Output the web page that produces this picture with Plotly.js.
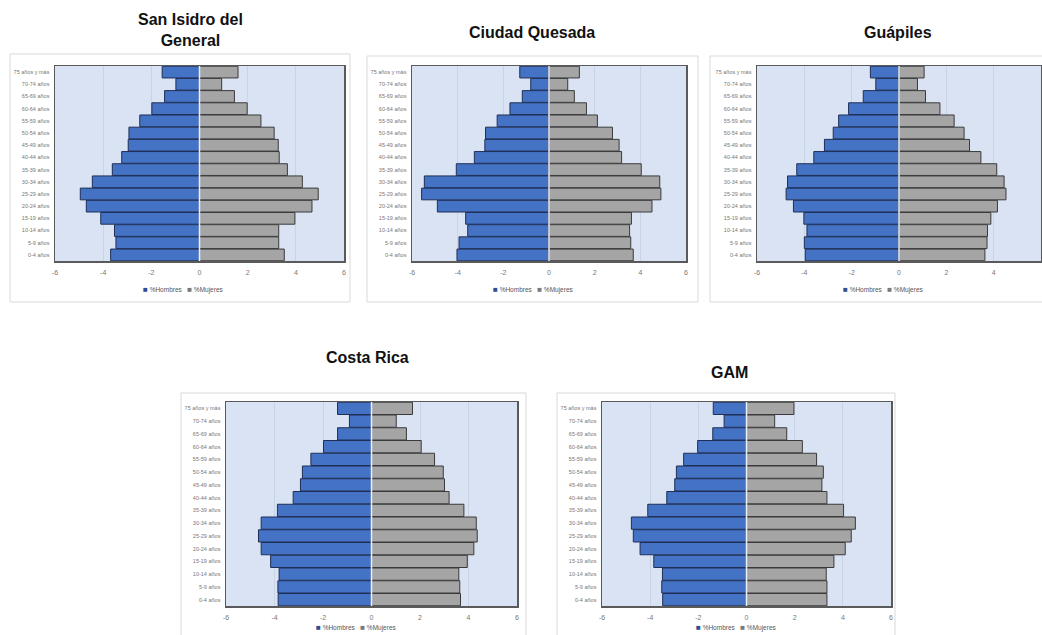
<!DOCTYPE html>
<html>
<head>
<meta charset="utf-8">
<script src="https://cdn.plot.ly/plotly-3.0.1.min.js"></script>
<style>
html,body{margin:0;padding:0;background:#fff;}
#chart{width:1042px;height:635px;}
</style>
</head>
<body>
<div id="chart"></div>
<script>
// Age groups, bottom to top
var ageGroups = ["0-4 años","5-9 años","10-14 años","15-19 años","20-24 años","25-29 años","30-34 años","35-39 años","40-44 años","45-49 años","50-54 años","55-59 años","60-64 años","65-69 años","70-74 años","75 años y más"];

var regionNames = ["San Isidro del<br>General","Ciudad Quesada","Guápiles","Costa Rica","GAM"];
var seriesNames = ["%Hombres","%Mujeres"];

// % Hombres (shown to the left), bottom (0-4) to top (75+)
var hombresSanIsidro = [3.69,3.47,3.53,4.10,4.70,4.95,4.45,3.62,3.23,2.96,2.93,2.48,1.98,1.45,0.98,1.55];
var hombresQuesada   = [4.03,3.94,3.56,3.65,4.89,5.58,5.46,4.06,3.27,2.81,2.78,2.27,1.71,1.17,0.80,1.28];
var hombresGuapiles  = [3.96,4.00,3.89,4.02,4.46,4.77,4.71,4.32,3.60,3.15,2.78,2.55,2.13,1.51,0.98,1.21];
var hombresCostaRica = [3.85,3.86,3.81,4.16,4.55,4.66,4.55,3.88,3.23,2.93,2.85,2.50,1.98,1.40,0.91,1.40];
var hombresGAM       = [3.48,3.52,3.49,3.85,4.42,4.70,4.78,4.10,3.31,2.98,2.91,2.61,2.03,1.40,0.93,1.38];

// % Mujeres (shown to the right)
var mujeresSanIsidro = [3.52,3.29,3.29,3.96,4.67,4.93,4.27,3.65,3.31,3.27,3.10,2.55,1.98,1.45,0.92,1.60];
var mujeresQuesada   = [3.69,3.58,3.53,3.61,4.51,4.90,4.85,4.04,3.18,3.07,2.78,2.12,1.64,1.11,0.82,1.33];
var mujeresGuapiles  = [3.63,3.72,3.74,3.88,4.16,4.52,4.44,4.13,3.46,2.98,2.75,2.33,1.73,1.12,0.78,1.06];
var mujeresCostaRica = [3.67,3.64,3.60,3.95,4.22,4.36,4.32,3.81,3.20,3.01,2.96,2.60,2.05,1.44,1.02,1.69];
var mujeresGAM       = [3.34,3.34,3.31,3.63,4.10,4.35,4.52,4.03,3.34,3.13,3.19,2.91,2.32,1.67,1.17,1.97];

var xTickVals = [-6,-4,-2,0,2,4,6];
var xTickText = ["-6","-4","-2","0","2","4","6"];

var hombres = [hombresSanIsidro,hombresQuesada,hombresGuapiles,hombresCostaRica,hombresGAM];
var mujeres = [mujeresSanIsidro,mujeresQuesada,mujeresGuapiles,mujeresCostaRica,mujeresGAM];

var W = 1042, H = 635;
function px(x){return x/W;}
function py(y){return 1 - y/H;}

// plot areas in pixels [x0,x1,y0,y1]
var areas = [
  [55,344,66,261],
  [412,686,66,261],
  [757,1041,66,261],
  [226,517,402,606],
  [602,891,402,606]
];
var boxes = [
  [10,350,54,302],
  [367,698,56,302],
  [710,1050,56,302],
  [181,526,393,640],
  [557,895,393,640]
];
var titlePos = [[190,30],[532,32],[898,32],[367,357],[729,372]];
var legendPos = [[183,289],[533,289],[883,289],[356,627],[736,627]];

var blue = "#4472c4", gray = "#a5a5a5";
var data = [], layout = {
  width: W, height: H,
  margin:{l:0,r:0,t:0,b:0},
  paper_bgcolor:"#ffffff",
  plot_bgcolor:"#dae3f3",
  barmode:"relative",
  bargap:0.04,
  showlegend:false,
  font:{family:"Liberation Sans, Arial, sans-serif"},
  annotations:[], shapes:[]
};

for (var i=0;i<5;i++){
  var sfx = i===0 ? "" : String(i+1);
  data.push({
    type:"bar", orientation:"h", name:seriesNames[0],
    y: ageGroups, x: hombres[i].map(function(v){return -v;}),
    xaxis:"x"+sfx, yaxis:"y"+sfx,
    marker:{color:blue, line:{color:"#1f2f57", width:1}},
    hoverinfo:"skip"
  });
  data.push({
    type:"bar", orientation:"h", name:seriesNames[1],
    y: ageGroups, x: mujeres[i],
    xaxis:"x"+sfx, yaxis:"y"+sfx,
    marker:{color:gray, line:{color:"#3a3a3a", width:1}},
    hoverinfo:"skip"
  });
  var a = areas[i];
  layout["xaxis"+sfx] = {
    domain:[px(a[0]),px(a[1])], anchor:"y"+sfx,
    range:[-6,6], tickvals:xTickVals, ticktext:xTickText,
    showgrid:true, gridcolor:"#c9d3e6", gridwidth:1,
    zeroline:false, showline:true, linecolor:"#5a5a5a", linewidth:1.5, mirror:true,
    tickfont:{size:7, color:"#777777"}, ticks:"", ticklabelstandoff:4,
    fixedrange:true
  };
  layout["yaxis"+sfx] = {
    domain:[py(a[3]),py(a[2])], anchor:"x"+sfx,
    type:"category", categoryorder:"array", categoryarray:ageGroups,
    showgrid:false, zeroline:false, showline:true, linecolor:"#5a5a5a", linewidth:1.5, mirror:true,
    tickfont:{size:5.5, color:"#777777"}, ticks:"", ticklabelstandoff:3,
    fixedrange:true
  };
  // compact legend
  layout.annotations.push({
    xref:"paper", yref:"paper", x:px(legendPos[i][0]), y:py(legendPos[i][1]),
    xanchor:"center", yanchor:"middle", showarrow:false,
    text:"<span style='color:#2f4f8f;font-size:8px'>■</span> "+seriesNames[0]+"   <span style='color:#7a7a7a;font-size:8px'>■</span> "+seriesNames[1],
    font:{size:6.5, color:"#555555"}
  });
  layout.annotations.push({
    xref:"paper", yref:"paper", x:px(titlePos[i][0]), y:py(titlePos[i][1]),
    xanchor:"center", yanchor:"middle", showarrow:false,
    text:"<b>"+regionNames[i]+"</b>",
    font:{size:16, color:"#111111", family:"Liberation Sans, Arial, sans-serif"}
  });
  var b = boxes[i];
  layout.shapes.push({
    type:"rect", xref:"paper", yref:"paper",
    x0:px(b[0]), x1:px(b[1]), y0:py(b[3]), y1:py(b[2]),
    line:{color:"#d9d9d9", width:1}, layer:"below"
  });
  // light divider at zero
  layout.shapes.push({
    type:"line", xref:"x"+sfx, yref:"y"+sfx+" domain",
    x0:0, x1:0, y0:0, y1:1,
    line:{color:"#e9eef8", width:1.5}, layer:"above"
  });
}

Plotly.newPlot("chart", data, layout, {displayModeBar:false, staticPlot:true});
</script>
</body>
</html>
